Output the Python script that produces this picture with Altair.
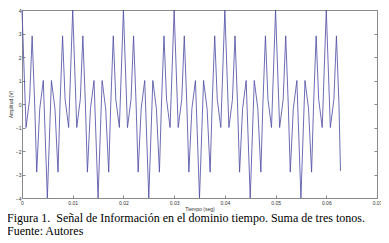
import altair as alt
import pandas as pd

# Values (time in s, amplitude in V)
time_s = [
    0.0, 0.0008, 0.0015, 0.002, 0.0025, 0.0029, 0.0035, 0.0042, 0.005, 0.0058, 0.0065, 0.0071, 0.0075, 0.008, 0.0085, 0.0092,
    0.01, 0.0108, 0.0115, 0.012, 0.0125, 0.0129, 0.0135, 0.0142, 0.015, 0.0158, 0.0165, 0.0171, 0.0175, 0.018, 0.0185, 0.0192,
    0.02, 0.0208, 0.0215, 0.022, 0.0225, 0.0229, 0.0235, 0.0242, 0.025, 0.0258, 0.0265, 0.0271, 0.0275, 0.028, 0.0285, 0.0292,
    0.03, 0.0308, 0.0315, 0.032, 0.0325, 0.0329, 0.0335, 0.0342, 0.035, 0.0358, 0.0365, 0.0371, 0.0375, 0.038, 0.0385, 0.0392,
    0.04, 0.0408, 0.0415, 0.042, 0.0425, 0.0429, 0.0435, 0.0442, 0.045, 0.0458, 0.0465, 0.0471, 0.0475, 0.048, 0.0485, 0.0492,
    0.05, 0.0508, 0.0515, 0.052, 0.0525, 0.0529, 0.0535, 0.0542, 0.055, 0.0558, 0.0565, 0.0571, 0.0575, 0.058, 0.0585, 0.0592,
    0.06, 0.0608, 0.0615, 0.062, 0.0625, 0.0628,
]
amplitude_v = [
    4.0, -1.0, 0.2, 2.9, 0.0, -2.9, -0.2, 1.0, -4.0, 1.0, -0.2, -2.9, 0.0, 2.9, 0.2, -1.0,
    4.0, -1.0, 0.2, 2.9, 0.0, -2.9, -0.2, 1.0, -4.0, 1.0, -0.2, -2.9, 0.0, 2.9, 0.2, -1.0,
    4.0, -1.0, 0.2, 2.9, 0.0, -2.9, -0.2, 1.0, -4.0, 1.0, -0.2, -2.9, 0.0, 2.9, 0.2, -1.0,
    4.0, -1.0, 0.2, 2.9, 0.0, -2.9, -0.2, 1.0, -4.0, 1.0, -0.2, -2.9, 0.0, 2.9, 0.2, -1.0,
    4.0, -1.0, 0.2, 2.9, 0.0, -2.9, -0.2, 1.0, -4.0, 1.0, -0.2, -2.9, 0.0, 2.9, 0.2, -1.0,
    4.0, -1.0, 0.2, 2.9, 0.0, -2.9, -0.2, 1.0, -4.0, 1.0, -0.2, -2.9, 0.0, 2.9, 0.2, -1.0,
    4.0, -1.0, 0.2, 2.9, 0.0, -2.85,
]
x_ticks = [0, 0.01, 0.02, 0.03, 0.04, 0.05, 0.06, 0.07]
y_ticks = [-4, -3, -2, -1, 0, 1, 2, 3, 4]
x_title = "Tiempo (seg)"
y_title = "Amplitud (V)"
caption = [
    "Figura 1.\u00a0 Señal de Información en el dominio tiempo. Suma de tres tonos.",
    "Fuente: Autores",
]

df = pd.DataFrame({"t": time_s, "v": amplitude_v})

xs = alt.Scale(domain=[0, 0.07], nice=False, zero=False)
ys = alt.Scale(domain=[-4, 4], nice=False)
inward = alt.ExprRef(expr="-3")

x_axis = alt.Axis(values=x_ticks, format=".2~f", title=x_title, orient="bottom",
                  tickSize=inward, labelPadding=5.5, titlePadding=0.5, labelFlush=False,
                  domain=False)

base = alt.Chart(df)
line = base.mark_line(color="#5252a6", strokeWidth=0.85, interpolate="linear").encode(
    x=alt.X("t:Q", scale=xs, axis=x_axis),
    y=alt.Y("v:Q", scale=ys, axis=alt.Axis(values=y_ticks, format="d", title=y_title,
                                            orient="left", tickSize=inward, labelPadding=4,
                                            titlePadding=2, labelFlush=False, domain=False)),
)
right = base.mark_line(opacity=0).encode(
    x=alt.X("t:Q", scale=xs, axis=x_axis),
    y=alt.Y("v:Q", scale=ys, axis=alt.Axis(values=y_ticks, orient="right", labels=False,
                                            title=None, tickSize=inward, domain=False)),
)

chart = (
    alt.layer(line, right)
    .resolve_axis(y="independent")
    .properties(
        width=355,
        height=188,
        autosize="none",
        padding={"left": 14, "top": 2, "right": 4, "bottom": 42},
        title=alt.TitleParams(text=caption, orient="bottom", anchor="start", frame="group",
                              dx=-15, offset=2, font="Liberation Serif", fontSize=12,
                              fontWeight="normal", color="black", lineHeight=12.5),
    )
    .configure_view(stroke="#8a8a8a", strokeWidth=1)
    .configure_axis(labelFont="Liberation Sans", labelFontSize=5, labelColor="#333",
                    titleFont="Liberation Sans", titleFontSize=5, titleFontWeight="normal",
                    titleColor="#333", tickColor="#8a8a8a", grid=False)
)

chart.save("out.html", embed_options={"renderer": "svg", "actions": False})
